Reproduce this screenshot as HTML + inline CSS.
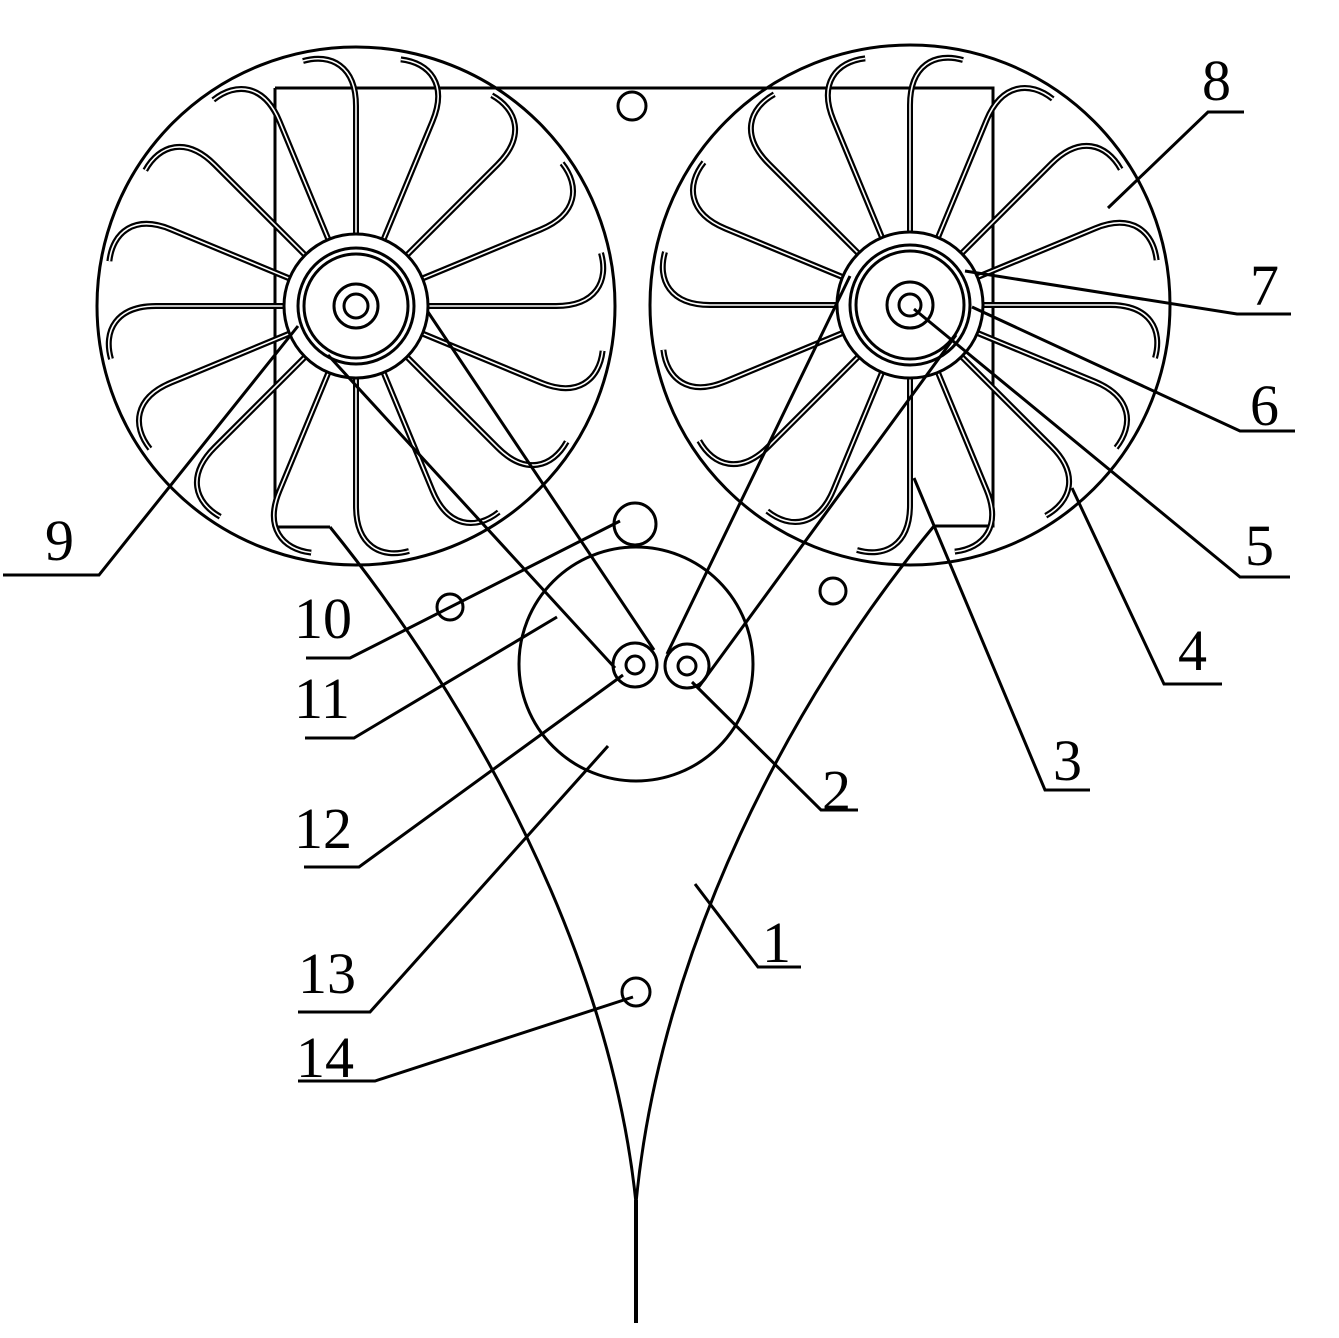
<!DOCTYPE html>
<html><head><meta charset="utf-8"><style>
html,body{margin:0;padding:0;background:#fff;}
svg{display:block;}
text{font-family:"Liberation Serif",serif;font-size:58px;fill:#000;}
</style></head><body>
<svg width="1339" height="1338" viewBox="0 0 1339 1338" xmlns="http://www.w3.org/2000/svg">
<defs>
<g id="bladeL">
<path d="M72 0 L200 0 C240 0 253 -25 245 -53" fill="none" stroke="#000" stroke-width="6"/>
<path d="M72 0 L200 0 C240 0 253 -25 245 -53" fill="none" stroke="#fff" stroke-width="1.6"/>
</g>
<g id="bladeR">
<path d="M72 0 L200 0 C240 0 253 25 245 53" fill="none" stroke="#000" stroke-width="6"/>
<path d="M72 0 L200 0 C240 0 253 25 245 53" fill="none" stroke="#fff" stroke-width="1.6"/>
</g>
</defs>
<g fill="none" stroke="#000" stroke-width="3">
<!-- frame -->
<path d="M275 88 L993 88 L993 526 L934 526"/>
<path d="M275 88 L275 527 L330 527"/>
<path d="M330 527 C470 700 610 950 636 1203"/>
<path d="M934 526 C790 700 660 950 636 1203"/>
<path d="M636 1200 L636 1323" stroke-width="4"/>
<!-- wheels -->
<circle cx="356" cy="306" r="259"/>
<circle cx="910" cy="305" r="260"/>
<!-- small holes -->
<circle cx="632" cy="106" r="14"/>
<circle cx="635" cy="524" r="21"/>
<circle cx="450" cy="607" r="13"/>
<circle cx="833" cy="591" r="13"/>
<circle cx="636" cy="992" r="14"/>
<circle cx="636" cy="664" r="117"/>
<circle cx="635" cy="665" r="22"/><circle cx="635" cy="665" r="9"/>
<circle cx="687" cy="666" r="22"/><circle cx="687" cy="666" r="9"/>
</g>
<!-- blades left -->
<g transform="translate(356,306)">
<use href="#bladeL" transform="rotate(0)"/><use href="#bladeL" transform="rotate(22.5)"/><use href="#bladeL" transform="rotate(45)"/><use href="#bladeL" transform="rotate(67.5)"/>
<use href="#bladeL" transform="rotate(90)"/><use href="#bladeL" transform="rotate(112.5)"/><use href="#bladeL" transform="rotate(135)"/><use href="#bladeL" transform="rotate(157.5)"/>
<use href="#bladeL" transform="rotate(180)"/><use href="#bladeL" transform="rotate(202.5)"/><use href="#bladeL" transform="rotate(225)"/><use href="#bladeL" transform="rotate(247.5)"/>
<use href="#bladeL" transform="rotate(270)"/><use href="#bladeL" transform="rotate(292.5)"/><use href="#bladeL" transform="rotate(315)"/><use href="#bladeL" transform="rotate(337.5)"/>
<g fill="#fff" stroke="#000" stroke-width="3">
<circle r="72"/><circle r="58"/><circle r="52"/><circle r="22"/><circle r="12"/>
</g>
</g>
<!-- blades right -->
<g transform="translate(910,305)">
<use href="#bladeR" transform="rotate(0)"/><use href="#bladeR" transform="rotate(22.5)"/><use href="#bladeR" transform="rotate(45)"/><use href="#bladeR" transform="rotate(67.5)"/>
<use href="#bladeR" transform="rotate(90)"/><use href="#bladeR" transform="rotate(112.5)"/><use href="#bladeR" transform="rotate(135)"/><use href="#bladeR" transform="rotate(157.5)"/>
<use href="#bladeR" transform="rotate(180)"/><use href="#bladeR" transform="rotate(202.5)"/><use href="#bladeR" transform="rotate(225)"/><use href="#bladeR" transform="rotate(247.5)"/>
<use href="#bladeR" transform="rotate(270)"/><use href="#bladeR" transform="rotate(292.5)"/><use href="#bladeR" transform="rotate(315)"/><use href="#bladeR" transform="rotate(337.5)"/>
<g fill="#fff" stroke="#000" stroke-width="3">
<circle r="73"/><circle r="60"/><circle r="54"/><circle r="23"/><circle r="11"/>
</g>
</g>
<!-- belts -->
<g fill="none" stroke="#000" stroke-width="3">
<path d="M328 355 L615 668"/>
<path d="M428 312 L654 650"/>
<path d="M850 276 L667 654"/>
<path d="M956 335 L698 688"/>
</g>
<!-- leaders -->
<g fill="none" stroke="#000" stroke-width="3">
<path d="M298 326 L99 575 L3 575"/>
<path d="M620 521 L350 658 L306 658"/>
<path d="M557 617 L354 738 L305 738"/>
<path d="M623 675 L359 867 L304 867"/>
<path d="M608 746 L370 1012 L298 1012"/>
<path d="M633 997 L375 1081 L298 1081"/>
<path d="M692 682 L821 810 L858 810"/>
<path d="M695 884 L758 967 L801 967"/>
<path d="M914 478 L1045 790 L1090 790"/>
<path d="M1072 488 L1164 684 L1222 684"/>
<path d="M914 309 L1240 577 L1290 577"/>
<path d="M972 307 L1240 431 L1295 431"/>
<path d="M965 271 L1237 314 L1291 314"/>
<path d="M1108 208 L1208 112 L1244 112"/>
</g>
<!-- labels -->
<text x="45" y="560">9</text>
<text x="294" y="638">10</text>
<text x="294" y="718">11</text>
<text x="294" y="848">12</text>
<text x="298" y="993">13</text>
<text x="296" y="1077">14</text>
<text x="822" y="810">2</text>
<text x="762" y="962">1</text>
<text x="1053" y="780">3</text>
<text x="1178" y="670">4</text>
<text x="1245" y="565">5</text>
<text x="1250" y="425">6</text>
<text x="1250" y="305">7</text>
<text x="1202" y="100">8</text>
</svg>
</body></html>
